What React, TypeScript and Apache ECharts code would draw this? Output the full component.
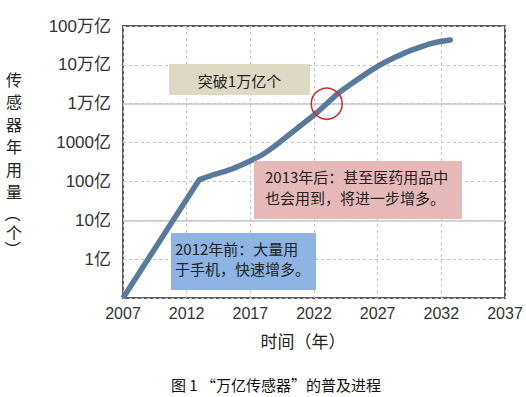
import React, { useEffect, useRef } from "react";
import * as echarts from "echarts";

// Years and annual sensor usage (unit: 亿 = 1e8 pieces)
const BASE_YEAR = 2007;
const earlyYears = [2007, 2013];
const earlyValues = [0.1, 112];
const laterYears = [2013, 2014, 2015.3, 2016.6, 2017.9, 2019.2, 2020.5, 2022.3, 2023.1, 2023.9, 2025, 2026.3, 2027.2, 2028, 2028.75, 2029.5, 2030.3, 2031.1, 2031.9, 2032.7];
const laterValues = [112, 146, 195, 295, 479, 955, 2090, 6170, 10700, 18600, 33500, 66100, 100000, 138000, 178000, 229000, 282000, 347000, 398000, 437000];
const yTickLabels: Record<number, string> = {
  0: "1亿",
  1: "10亿",
  2: "100亿",
  3: "1000亿",
  4: "1万亿",
  5: "10万亿",
  6: "100万亿",
};
const milestoneYear = 2023;
const milestoneValue = 10000;
const yAxisTitleMain = "传\n感\n器\n年\n用\n量";

const FONT = "Arial, 'Liberation Sans', 'Noto Sans CJK SC', sans-serif";
const CJK = "'Noto Sans CJK SC', sans-serif";
const LINE_COLOR = "#587a9c";

export default function App() {
  const ref = useRef<HTMLDivElement>(null);
  useEffect(() => {
    if (!ref.current) return;
    const chart = echarts.init(ref.current, undefined, { renderer: "svg" });
    const toPts = (ys: number[], vs: number[]) => ys.map((y, i) => [y - BASE_YEAR, vs[i]]);

    chart.setOption({
      animation: false,
      grid: {
        left: 123,
        right: 21,
        top: 26,
        bottom: 99,
        show: true,
        borderColor: "#625c58",
        borderWidth: 2,
        backgroundColor: "transparent",
      },
      xAxis: {
        type: "value",
        min: 0,
        max: 30,
        interval: 5,
        axisLine: { show: false },
        axisTick: { show: false },
        axisLabel: {
          formatter: (v: number) => String(Math.round(v) + BASE_YEAR),
          fontSize: 16,
          fontFamily: FONT,
          color: "#333",
          margin: 7,
        },
        splitLine: { show: true, lineStyle: { type: [3, 3], color: "#c4c4c4", width: 1 } },
      },
      yAxis: {
        type: "log",
        logBase: 10,
        min: 0.1,
        max: 1000000,
        splitNumber: 7,
        axisLine: { show: false },
        axisTick: { show: false },
        axisLabel: {
          formatter: (v: number) => {
            const e = Math.round(Math.log10(v));
            return yTickLabels[e] ?? "";
          },
          fontSize: 17,
          fontFamily: FONT,
          color: "#333",
          margin: 12,
        },
        splitLine: { show: true, lineStyle: { type: [3, 3], color: "#c4c4c4", width: 1 } },
      },
      series: [
        {
          type: "line",
          data: toPts(earlyYears, earlyValues),
          showSymbol: false,
          lineStyle: { color: LINE_COLOR, width: 5.5 },
          z: 3,
          markLine: {
            silent: true,
            symbol: "none",
            label: { show: false },
            lineStyle: { type: "solid", color: "#c8c8c8", width: 1.5 },
            data: [{ yAxis: 10 }, { yAxis: 10000 }],
            z: 1,
          },
        },
        {
          type: "line",
          data: toPts(laterYears, laterValues),
          smooth: 0.25,
          showSymbol: false,
          lineStyle: { color: LINE_COLOR, width: 5.5, cap: "round", join: "round" },
          z: 3,
          markPoint: {
            silent: true,
            symbol: "circle",
            symbolSize: 31,
            label: { show: false },
            itemStyle: { color: "rgba(0,0,0,0)", borderColor: "#d9262b", borderWidth: 1.5 },
            data: [{ coord: [milestoneYear - BASE_YEAR, milestoneValue] }],
          },
        },
      ],
      graphic: [
        { type: "rect", shape: { x: 169, y: 64, width: 141, height: 31 }, style: { fill: "#ddd9c4" }, z: 10 },
        {
          type: "text", x: 239.5, y: 80, z: 11,
          style: { text: "突破1万亿个", font: `15px ${CJK}`, fill: "#222", align: "center", verticalAlign: "middle" },
        },
        { type: "rect", shape: { x: 254, y: 161, width: 208, height: 58 }, style: { fill: "#e6b9b8" }, z: 10 },
        {
          type: "text", x: 265, y: 186.5, z: 11,
          style: {
            text: "2013年后：甚至医药用品中\n也会用到，将进一步增多。",
            font: `15px ${CJK}`, lineHeight: 21, fill: "#222", align: "left", verticalAlign: "middle",
          },
        },
        { type: "rect", shape: { x: 171, y: 233, width: 145, height: 57 }, style: { fill: "#8db4e2" }, z: 10 },
        {
          type: "text", x: 175, y: 258, z: 11,
          style: {
            text: "2012年前：大量用\n于手机，快速增多。",
            font: `15px ${CJK}`, lineHeight: 20, fill: "#222", align: "left", verticalAlign: "middle",
          },
        },
        {
          type: "text", x: 303, y: 340, z: 11,
          style: { text: "时间（年）", font: `17px ${CJK}`, fill: "#222", align: "center", verticalAlign: "middle" },
        },
        {
          type: "text", x: 276, y: 384, z: 11,
          style: { text: "图 1 “万亿传感器”的普及进程", font: `15px ${CJK}`, fill: "#111", align: "center", verticalAlign: "middle" },
        },
        {
          type: "text", x: 14, y: 135, z: 11,
          style: { text: yAxisTitleMain, font: `16px ${CJK}`, lineHeight: 22.5, fill: "#222", align: "center", verticalAlign: "middle" },
        },
        {
          type: "text", x: 14, y: 214, z: 11, rotation: -Math.PI / 2,
          style: { text: "（", font: `16px ${CJK}`, fill: "#222", align: "center", verticalAlign: "middle" },
        },
        {
          type: "text", x: 14, y: 231.5, z: 11,
          style: { text: "个", font: `16px ${CJK}`, fill: "#222", align: "center", verticalAlign: "middle" },
        },
        {
          type: "text", x: 14, y: 249, z: 11, rotation: -Math.PI / 2,
          style: { text: "）", font: `16px ${CJK}`, fill: "#222", align: "center", verticalAlign: "middle" },
        },
      ],
    });
    return () => chart.dispose();
  }, []);
  return (
    <div
      ref={ref}
      style={{ position: "absolute", left: 0, top: 0, width: 526, height: 397, background: "#fff" }}
    />
  );
}
